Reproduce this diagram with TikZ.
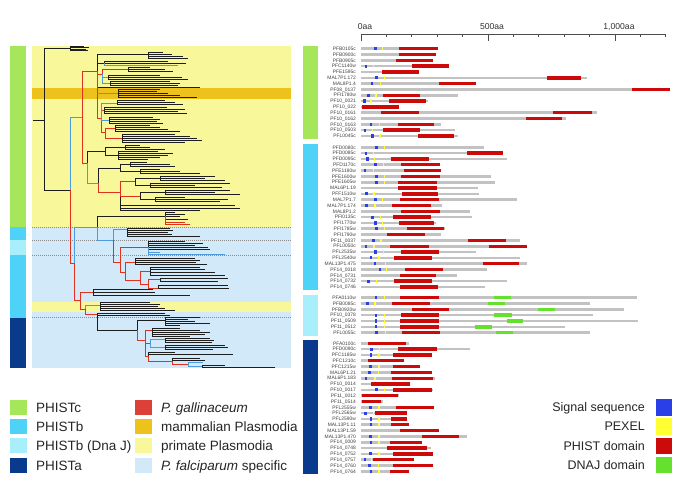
\documentclass[tikz,border=0pt]{standalone}
\usepackage{fontspec}
\setmainfont{Liberation Sans}
\usetikzlibrary{positioning}
\definecolor{PCGreen}{HTML}{A6E65A}
\definecolor{PBCyan}{HTML}{4ED2F7}
\definecolor{PJCyan}{HTML}{A9EEFB}
\definecolor{PANavy}{HTML}{0A3A8C}
\definecolor{GalRed}{HTML}{DC4038}
\definecolor{MamGold}{HTML}{EEC21C}
\definecolor{PriYellow}{HTML}{F8F89A}
\definecolor{FalBlue}{HTML}{D2E9FA}
\definecolor{SeqGray}{HTML}{C2C2C2}
\definecolor{DomRed}{HTML}{CC0A0A}
\definecolor{SigBlue}{HTML}{2A3FE8}
\definecolor{PexYellow}{HTML}{FFFF33}
\definecolor{DnaGreen}{HTML}{66E02E}
\definecolor{TInk}{HTML}{1E1E1E}
\definecolor{TRed}{HTML}{E0321E}
\definecolor{TBlue}{HTML}{4C9AE0}

\def\aas{0.254}
\def\rowh{5.82}

% elbow branches from one parent point
\newcommand\fork[4]{\foreach \cy/\cx in {#4}{\draw[#1] (#2,#3) |- (\cx,\cy);}}

% id, y, name, length, signal, pexel, phist start, phist end
\newcommand\protrow[8]{%
  \node[genelbl] (#1) at (356,#2+1.7) {#3};
  \fill[SeqGray] (361,#2-1.3) rectangle ({361+#4*\aas},#2+1.3);
  \ifnum#7>0 \fill[DomRed] ({361+#7*\aas},#2-1.7) rectangle ({361+#8*\aas},#2+1.7);\fi
  \ifnum#5>0 \fill[SigBlue] ({361+#5*\aas-1.4},#2-1.6) rectangle ({361+#5*\aas+1.4},#2+1.6);\fi
  \ifnum#6>0 \fill[PexYellow] ({361+#6*\aas-0.6},#2-1.6) rectangle ({361+#6*\aas+0.6},#2+1.6);\fi
}

\tikzset{
  tk/.style={line width=0.85pt, TInk},
  tr/.style={line width=0.85pt, TRed},
  tb/.style={line width=0.85pt, TBlue},
  genelbl/.style={font=\fontsize{4.9}{5}\selectfont, anchor=base east, inner sep=0pt, text=black!75},
  leglbl/.style={font=\fontsize{13.5}{16}\selectfont, anchor=base west, inner sep=0pt, text=black!85},
  keylbl/.style={font=\fontsize{12.5}{15}\selectfont, anchor=base east, inner sep=0pt, text=black!85},
  axislbl/.style={font=\fontsize{8.6}{10}\selectfont, anchor=base, inner sep=0pt, text=black!80},
  axisline/.style={line width=0.8pt, black!70},
  cladesep/.style={line width=0.6pt, black!45, dash pattern=on 1pt off 1pt}
}

\begin{document}
\begin{tikzpicture}[x=1pt, y=-1pt]
\useasboundingbox (0,0) rectangle (685,480);
\fill[white] (0,0) rectangle (685,480);

% clade bars and shading behind the tree
\fill[PCGreen] (10,46) rectangle (26,227);
\fill[PBCyan] (10,227) rectangle (26,240);
\fill[PJCyan] (10,240) rectangle (26,255);
\fill[PBCyan] (10,255) rectangle (26,317.5);
\fill[PANavy] (10,317.5) rectangle (26,368);
\fill[PriYellow] (32,46) rectangle (291,227);
\fill[MamGold] (32,88) rectangle (291,99);
\fill[FalBlue] (32,227) rectangle (291,368);
\fill[PriYellow] (32,301.7) rectangle (291,311.7);
\foreach \y in {227,240,255,317.5} \draw[cladesep] (32,\y) -- (291,\y);

% tree
\draw[tk] (33,120) -- (44,120);
\fork{tk}{44}{120}{48/70, 190/70}
\fork{tk}{70}{48}{46/84, 47.5/89, 49/86, 50.5/88}
\fork{tb}{70}{190}{117/82}
\fork{tr}{70}{190}{263/74}
% PHISTc, upper part
\fork{tr}{82}{117}{71/97, 163/87}
\fork{tk}{97}{71}{54/148, 63/104, 87/200}
\fork{tk}{148}{54}{52/163, 54/172, 56/183, 58/188}
\fork{tk}{104}{63}{61/168, 63/186}
\fork{tb}{104}{63}{65/178}
\fork{tr}{97}{71}{74/102, 118/101}
\fork{tr}{102}{74}{69/128}
\fork{tb}{102}{74}{77/108, 83/110}
\fork{tk}{128}{69}{67/150, 69/165, 71/173}
\fork{tk}{108}{77}{75/160, 77/182, 79/188}
\fork{tk}{110}{83}{81/170, 83/180, 85/178}
\fork{tb}{97}{93}{93/118}
\fork{tk}{118}{93}{89/160, 91/157, 93/168, 95/180, 97/197}
\fork{tr}{101}{118}{110/104, 132/105}
\fork{tb}{101}{118}{103/117, 120/109}
\fork{tk}{117}{103}{100/165, 102/175, 104/183}
\fork{tk}{104}{110}{107/167, 109/185, 111/178, 113/187}
\fork{tk}{109}{120}{117/153, 119/160, 121/157, 123/163}
\fork{tr}{105}{132}{128/115, 138/122}
\fork{tk}{115}{128}{125/150, 127/160, 129/168, 131/180}
\fork{tk}{122}{138}{134/175, 136/190, 138/197, 140/202, 142/185}
% PHISTc, lower part
\fork{tk}{87}{163}{151/105}
\fork{tb}{87}{163}{183/98}
\fork{tk}{105}{151}{147/125, 155/118}
\fork{tk}{125}{147}{145/140, 147/150, 149/165}
\fork{tk}{118}{155}{151/158, 153/173, 155/168, 157/160, 159/148}
\fork{tk}{98}{183}{168/120}
\fork{tr}{98}{183}{192/120}
\fork{tk}{120}{168}{164/130, 171/140}
\fork{tk}{130}{164}{162/147, 164/170, 166/175}
\fork{tk}{140}{171}{169/160, 171/180, 173/200}
\fork{tk}{120}{192}{205/235, 208/240, 210/200}
\fork{tr}{120}{192}{181/135, 196/140}
\fork{tk}{135}{181}{178/160, 185/150}
\fork{tk}{160}{178}{176/215, 178/205, 180/225}
\fork{tk}{150}{185}{183/230, 185/195, 187/222}
\fork{tk}{140}{196}{192/165, 199/155}
\fork{tk}{165}{192}{190/230, 192/215, 194/240}
\fork{tk}{155}{199}{197/185, 199/228, 201/220}
% PHISTb and DnaJ
\fork{tb}{74}{263}{227/97}
\fork{tr}{74}{263}{300/80}
\fork{tk}{97}{227}{216/165}
\fork{tb}{97}{227}{240/113}
\fork{tk}{165}{216}{212/175, 214/185, 216/180, 219/188}
\fork{tr}{165}{216}{222/185, 224/190}
\fork{tb}{113}{240}{229/127}
\fork{tr}{113}{240}{262/120}
\fork{tk}{127}{229}{228/170, 230/173, 232/168, 234/172, 236/200}
\fork{tr}{120}{262}{247/148, 272/125}
\fork{tk}{148}{247}{241/185, 243/203, 245/195, 247/208, 249/210}
\fork{tb}{148}{247}{252/160, 254/225}
\fork{tr}{125}{272}{262/135, 280/140}
\fork{tk}{135}{262}{258/195, 260/200, 262/196, 264/207}
\fork{tr}{140}{280}{271/150, 284/148}
\fork{tk}{150}{271}{267/200, 269/205, 272/215, 275/225}
\fork{tr}{148}{284}{279/160, 288/158}
\fork{tk}{160}{279}{278/228, 281/218}
\fork{tk}{158}{288}{285/228, 288/229}
\fork{tr}{80}{300}{292/93, 309/85}
\fork{tk}{93}{292}{289/153, 292/155, 295/190}
\fork{tb}{85}{309}{305/100}
\fork{tr}{85}{309}{314/97}
\fork{tk}{100}{305}{302/150, 304/160, 306/158, 308/165, 310/175}
\fork{tk}{97}{314}{313/165, 315/170, 330/137}
% PHISTa
\fork{tk}{137}{330}{320/165}
\fork{tr}{137}{330}{340/145}
\fork{tk}{165}{320}{317/200, 319/188, 321/195, 323/210, 325/180}
\fork{tr}{145}{340}{330/152, 343/150, 356/148}
\fork{tk}{152}{330}{328/180, 330/200, 332/210, 334/205, 336/190}
\fork{tb}{150}{343}{339/165, 347/165}
\fork{tk}{165}{339}{338/210, 340/214, 342/212}
\fork{tk}{165}{347}{345/225, 347/228, 349/213}
\fork{tk}{148}{356}{352/175, 354/233}
\fork{tr}{148}{356}{361/172}
\fork{tk}{172}{361}{358/200, 360/205}
\fork{tr}{172}{361}{364/188}
\fork{tb}{188}{364}{362/203, 366/202}
\fork{tk}{202}{366}{365/225, 367/275}

% scale
\draw[axisline] (361,34.5) -- (666.4,34.5);
\foreach \k in {0,...,12} \draw[axisline] ({361+\k*25.4},34.5) -- ++(0,2.6);
\foreach \k/\lbl in {0/0aa, 5/500aa, 10/{1,000aa}}{
  \draw[axisline] ({361+\k*25.4},34.5) -- ++(0,6);
  \node[axislbl] (ax\k) at ({365+\k*25.4},29.5) {\lbl};
}

% group bars
\fill[PCGreen] (303,45.8) rectangle (318,138.9);
\fill[PBCyan] (303,144.4) rectangle (318,289.9);
\fill[PJCyan] (303,294.8) rectangle (318,335.5);
\fill[PANavy] (303,340.4) rectangle (318,474.2);

% PHISTc
\foreach \nm/\len/\sig/\pex/\ps/\pe [count=\i from 0] in {%
  PFB0105c/302/58/85/151/302, PFB0900c/295/0/0/150/295, PFB0905c/282/0/0/138/282,
  PFC1140w/348/20/49/199/348, PFE1595c/227/0/0/81/227, MAL7P1.172/888/62/92/731/866,
  MAL8P1.4/454/43/77/308/454, PF08\_0137/1216/0/0/1065/1216, PFI1780w/383/29/59/88/232,
  PF10\_0021/265/13/39/110/256, PF10\_022/150/0/0/3/150, PF10\_0161/928/0/0/79/227,
  PF10\_0162/809/0/0/648/790, PF10\_0163/314/39/72/147/287, PF10\_0503/370/16/46/88/232,
  PFL0045c/383/45/75/223/367}{
  \pgfmathsetmacro{\y}{48.7+\i*\rowh}
  \protrow{c\i}{\y}{\nm}{\len}{\sig}{\pex}{\ps}{\pe}
}
% PHISTb
\foreach \nm/\len/\sig/\pex/\ps/\pe [count=\i from 0] in {%
  PFD0080c/485/62/92/0/0, PFD0085c/560/20/49/416/560, PFD0095c/576/25/54/118/269,
  PFD1170c/310/58/88/157/310, PFE1180w/315/16/49/168/315, PFE1600w/510/62/92/157/310,
  PFE1605w/529/62/91/147/298, MAL6P1.19/459/0/0/147/298, PFF1510w/466/22/51/161/302,
  MAL7P1.7/613/58/85/155/306, MAL7P1.174/317/22/55/122/274, MAL8P1.2/428/0/0/156/310,
  PFI0135c/436/46/77/125/276, PFI1770w/297/58/85/151/289, PFI1785w/331/62/91/180/328,
  PFI1790w/315/0/0/102/252, PF11\_0037/626/49/79/421/571, PFL0050c/652/20/51/115/266,
  PFL2535w/451/58/88/156/307, PFL2540w/627/39/71/129/278, MAL13P1.475/652/55/96/481/621,
  PF14\_0018/495/75/101/175/324, PF14\_0731/377/0/0/154/295, PF14\_0732/573/28/62/129/278,
  PF14\_0746/487/0/0/154/304}{
  \pgfmathsetmacro{\y}{147.3+\i*\rowh}
  \protrow{b\i}{\y}{\nm}{\len}{\sig}{\pex}{\ps}{\pe}
}
% second PHIST domains
\foreach \top/\k/\s/\e in {48.7/11/757/908, 147.3/17/502/652}{
  \pgfmathsetmacro{\y}{\top+\k*\rowh}
  \fill[DomRed] ({361+\s*\aas},\y-1.7) rectangle ({361+\e*\aas},\y+1.7);
}
% PHISTb with DnaJ
\foreach \nm/\len/\sig/\pex/\ps/\pe/\gs/\ge [count=\i from 0] in {%
  PFA0110w/1085/59/91/155/308/523/589, PFB0085c/901/25/55/122/273/501/567,
  PFB0920w/1035/0/0/199/346/697/764, PF10\_0378/912/59/91/156/307/525/593,
  PF11\_0509/1090/59/91/155/307/573/639, PF11\_0512/804/59/91/155/307/450/516,
  PFL0055c/901/62/96/161/311/531/600}{
  \pgfmathsetmacro{\y}{297.7+\i*\rowh}
  \protrow{j\i}{\y}{\nm}{\len}{\sig}{\pex}{\ps}{\pe}
  \fill[DnaGreen] ({361+\gs*\aas},\y-1.7) rectangle ({361+\ge*\aas},\y+1.7);
}
% PHISTa
\foreach \nm/\len/\sig/\pex/\ps/\pe [count=\i from 0] in {%
  PFA0100c/188/0/0/29/177, PFD0090c/429/42/72/147/298, PFC1185w/279/39/71/126/279,
  PFC1210c/171/0/0/26/171, PFC1215w/232/38/71/127/232, MAL6P1.21/278/35/68/118/278,
  MAL6P1.183/291/20/55/123/282, PF10\_0014/193/0/0/39/193, PF10\_0017/285/62/93/126/279,
  PF11\_0012/150/0/0/3/147, PF11\_0514/85/0/0/3/77, PFL2555w/289/38/71/138/289,
  PFL2565w/181/18/49/55/181, PFL2590w/181/39/71/118/181, MAL13P1.11/189/39/71/118/189,
  MAL13P1.59/306/0/0/152/306, MAL13P1.470/419/38/71/239/386, PF14\_0009/241/39/71/113/241,
  PF14\_0748/274/0/0/104/261, PF14\_0752/282/38/71/126/282, PF14\_0757/209/16/42/46/209,
  PF14\_0760/283/35/68/126/283, PF14\_0764/190/39/71/114/190}{
  \pgfmathsetmacro{\y}{343.3+\i*\rowh}
  \protrow{a\i}{\y}{\nm}{\len}{\sig}{\pex}{\ps}{\pe}
}

% legends
\foreach \k/\c/\t in {0/PCGreen/PHISTc, 1/PBCyan/PHISTb, 2/PJCyan/{PHISTb (Dna J)}, 3/PANavy/PHISTa}{
  \fill[\c] (10,{400+19.2*\k}) rectangle (26.5,{415+19.2*\k});
  \node[leglbl] (grp\k) at (36,{412.5+19.2*\k}) {\t};
}
\foreach \k/\c/\t in {0/GalRed/{\itshape P.\ gallinaceum}, 1/MamGold/{mammalian Plasmodia},
  2/PriYellow/{primate Plasmodia}, 3/FalBlue/{{\itshape P.\ falciparum} specific}}{
  \fill[\c] (135,{400+19.2*\k}) rectangle (151.7,{415+19.2*\k});
  \node[leglbl] (host\k) at (161,{412.5+19.2*\k}) {\t};
}
\foreach \k/\c/\t in {0/SigBlue/{Signal sequence}, 1/PexYellow/PEXEL, 2/DomRed/{PHIST domain}, 3/DnaGreen/{DNAJ domain}}{
  \fill[\c] (656,{399+19.3*\k}) rectangle (672,{415.5+19.3*\k});
  \node[keylbl] (key\k) at (645,{411.5+19.3*\k}) {\t};
}
\end{tikzpicture}
\end{document}
